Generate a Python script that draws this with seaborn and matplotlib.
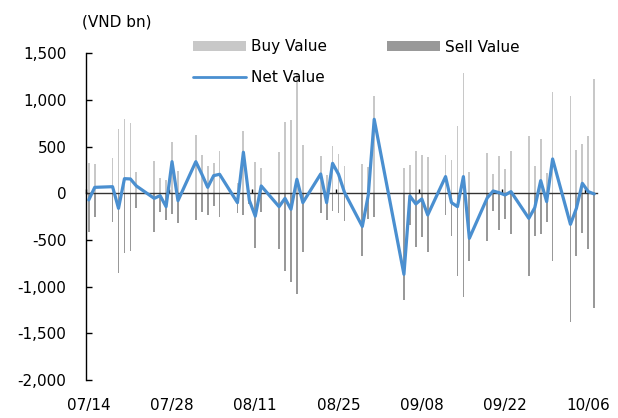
import matplotlib
matplotlib.use("Agg")
import matplotlib.pyplot as plt
import matplotlib.dates as mdates
from matplotlib.patches import Patch
from matplotlib.lines import Line2D
import seaborn as sns
import pandas as pd

year = 2022
dates = [
    "07/14", "07/15",
    "07/18", "07/19", "07/20", "07/21", "07/22",
    "07/25", "07/26", "07/27", "07/28", "07/29",
    "08/01", "08/02", "08/03", "08/04", "08/05",
    "08/08", "08/09", "08/10", "08/11", "08/12",
    "08/15", "08/16", "08/17", "08/18", "08/19",
    "08/22", "08/23", "08/24", "08/25", "08/26",
    "08/29", "08/30", "08/31",
    "09/05", "09/06", "09/07", "09/08", "09/09",
    "09/12", "09/13", "09/14", "09/15", "09/16",
    "09/19", "09/20", "09/21", "09/22", "09/23",
    "09/26", "09/27", "09/28", "09/29", "09/30",
    "10/03", "10/04", "10/05", "10/06", "10/07",
]
buy_value = [
    329, 314,
    375, 689, 796, 757, 225,
    346, 168, 143, 554, 243,
    625, 411, 293, 321, 454,
    107, 670, 40, 339, 268,
    446, 768, 786, 1290, 514,
    400, 196, 507, 421, 296,
    314, 279, 1043,
    268, 304, 457, 411, 386,
    411, 357, 721, 1286, 232,
    436, 207, 400, 257, 457,
    614, 293, 579, 214, 1086,
    1043, 464, 529, 614, 1221,
]
sell_value = [
    -411, -257,
    -311, -857, -643, -614, -154,
    -411, -196, -286, -225, -321,
    -286, -196, -232, -136, -257,
    -207, -232, -110, -589, -196,
    -600, -829, -954, -1079, -625,
    -207, -286, -189, -214, -293,
    -668, -279, -250,
    -1143, -339, -571, -471, -632,
    -232, -454, -882, -1107, -725,
    -507, -189, -393, -279, -439,
    -882, -457, -436, -304, -721,
    -1382, -668, -421, -600, -1232,
]
net_value = [
    -71, 64,
    71, -161, 157, 154, 79,
    -54, -25, -143, 339, -79,
    339, 207, 64, 189, 204,
    -100, 440, -75, -245, 79,
    -143, -54, -171, 150, -100,
    207, -100, 321, 204, 10,
    -355, -20, 793,
    -868, -29, -114, -60, -232,
    179, -100, -143, 179, -482,
    -50, 25, 7, -18, 18,
    -268, -154, 136, -89, 368,
    -332, -161, 107, 18, -7,
]
tick_dates = ["07/14", "07/28", "08/11", "08/25", "09/08", "09/22", "10/06"]
y_ticks = [-2000, -1500, -1000, -500, 0, 500, 1000, 1500]

df = pd.DataFrame({
    "date": pd.to_datetime([f"{year}/{d}" for d in dates], format="%Y/%m/%d"),
    "Buy": buy_value,
    "Sell": sell_value,
    "Net": net_value,
})

sns.set_theme(style="white")
plt.rcParams["font.family"] = ["DejaVu Sans"]
plt.rcParams["text.color"] = "black"
plt.rcParams["xtick.color"] = "black"
plt.rcParams["ytick.color"] = "black"
plt.rcParams["xtick.labelcolor"] = "black"
plt.rcParams["ytick.labelcolor"] = "black"

buy_c = "#c8c8c8"
sell_c = "#999999"
net_c = "#4a8fd0"

fig = plt.figure(figsize=(6.18, 4.18), dpi=100)
ax = fig.add_axes([85.8 / 618, 1 - 380 / 418, (597.2 - 85.8) / 618, (380 - 53.3) / 418])

ax.bar(df["date"], df["Buy"], width=0.3, color=buy_c, zorder=1, linewidth=0)
ax.bar(df["date"], df["Sell"], width=0.3, color=sell_c, zorder=1, linewidth=0)
sns.lineplot(data=df, x="date", y="Net", ax=ax, color=net_c, linewidth=2.3,
             zorder=3, legend=False)

tick_nums = mdates.date2num(pd.to_datetime([f"{year}/{d}" for d in tick_dates], format="%Y/%m/%d"))
first = mdates.date2num(df["date"].iloc[0])
last = mdates.date2num(df["date"].iloc[-1])
ax.set_xlim(first - 0.5, last + 0.5)
ax.set_ylim(-2000, 1500)

# axes styling
for s in ["top", "right"]:
    ax.spines[s].set_visible(False)
ax.spines["bottom"].set_position(("data", 0))
ax.spines["bottom"].set_color("#333333")
ax.spines["bottom"].set_linewidth(1.0)
ax.spines["left"].set_color("black")
ax.spines["left"].set_linewidth(1.0)
ax.spines["bottom"].set_zorder(2)

ax.set_xticks(tick_nums - 0.5)
ax.tick_params(axis="x", direction="in", length=3, width=1, color="black",
               labelbottom=False, bottom=True)
ax.set_yticks(y_ticks)
ax.set_yticklabels([f"{v:,}".replace("\u2212", "-") for v in y_ticks])
ax.tick_params(axis="y", direction="in", length=4, width=1, color="black",
               pad=14, labelsize=11, left=True, labelcolor="black")
ax.set_xlabel("")
ax.set_ylabel("")
ax.grid(False)

sec = ax.secondary_xaxis("bottom")
sec.set_xticks(tick_nums)
sec.set_xticklabels(tick_dates)
sec.tick_params(axis="x", length=0, pad=13, labelsize=11, labelcolor="black")
sec.spines["bottom"].set_visible(False)

fig.text(82 / 618, 1 - 22 / 418, "(VND bn)", ha="left", va="center", fontsize=11,
         color="black")

handles = [
    Patch(facecolor=buy_c, edgecolor="none", label="Buy Value"),
    Line2D([0], [0], color=net_c, linewidth=2, label="Net Value"),
    Patch(facecolor=sell_c, edgecolor="none", label="Sell Value"),
]
leg = fig.legend(handles=handles, ncol=2, frameon=False, loc="upper left",
                 bbox_to_anchor=(193 / 618, 1 - 39.5 / 418), bbox_transform=fig.transFigure,
                 borderaxespad=0, borderpad=0, handlelength=3.45, handleheight=0.6,
                 handletextpad=0.33, columnspacing=3.95, labelspacing=1.0, fontsize=11)
for t in leg.get_texts():
    t.set_color("black")

fig.savefig("out.png", dpi=100)
